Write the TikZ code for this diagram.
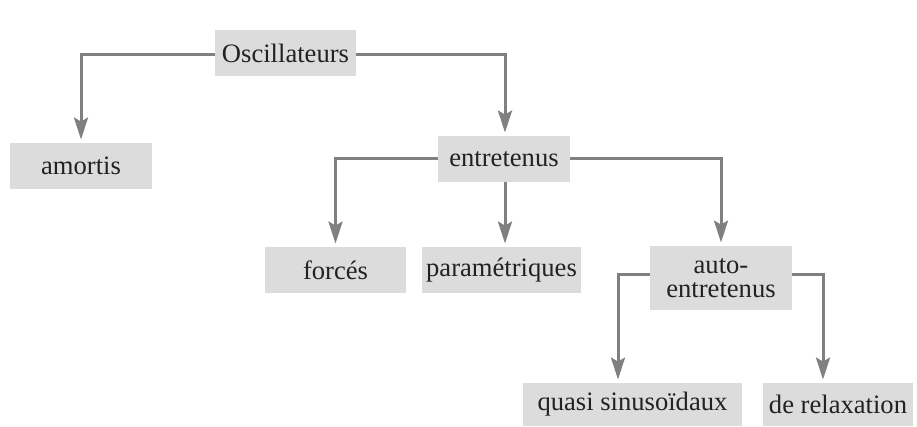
\documentclass[tikz,border=0pt]{standalone}
\usepackage{fontspec}
\setmainfont{Liberation Serif}
\usepackage{xcolor}
\usetikzlibrary{positioning}
\usetikzlibrary{arrows.meta}
\definecolor{boxgray}{HTML}{DCDCDC}
\definecolor{linegray}{HTML}{808080}
\definecolor{textgray}{HTML}{222222}
\tikzset{
  box/.style={fill=boxgray, text=textgray, inner sep=0pt, align=center,
    font=\fontsize{13.3}{12}\selectfont},
  link/.style={draw=linegray, line width=1.5pt,
    -{Stealth[length=11pt,width=7pt,inset=2pt]}}
}

\begin{document}
\begin{tikzpicture}[x=0.5pt,y=-0.5pt]
\useasboundingbox (0,0) rectangle (917,427);

% Root
\node[box,
    minimum width=70.5pt,
    minimum height=23pt
    ] (osc) at (285.5,53) {Oscillateurs};

% First level
\node[box,
    minimum width=71pt,
    minimum height=23pt
    ] (amortis) at (81,166) {amortis};

\node[box,
    minimum width=66pt,
    minimum height=23pt
    ] (entr) at (504,159) {entretenus};

% Second level
\node[box,
    minimum width=70.5pt,
    minimum height=23pt
    ] (forces) at (335.5,270) {forcés};

\node[box,
    minimum width=79.5pt,
    minimum height=23pt
    ] (param) at (501.5,270) {paramétriques};

\node[box,
    minimum width=71pt,
    minimum height=32pt
    ] (auto) at (721,278) {auto-\\entretenus};

% Third level
\node[box,
    minimum width=109.5pt,
    minimum height=21.5pt
    ] (quasi) at (632.5,404.5) {quasi sinusoïdaux};

\node[box,
    minimum width=75pt,
    minimum height=21.5pt
    ] (relax) at (838,404.5) {de relaxation};

% Connectors
\draw[link] ([yshift=-1pt]osc.west) -| ([yshift=1.5pt]amortis.north);
\draw[link] ([yshift=-1pt]osc.east) -| ([xshift=0.5pt,yshift=1.5pt]entr.north);

\draw[link] (entr.west) -| ([yshift=1.5pt]forces.north);
\draw[link] ([xshift=0.5pt]entr.south) -- ([xshift=0.5pt,yshift=1.5pt]entr.south |- param.north);
\draw[link] (entr.east) -| ([yshift=1.5pt]auto.north);

\draw[link] ([yshift=1.5pt]auto.west) -| ([xshift=-7.25pt,yshift=1.5pt]quasi.north);
\draw[link] ([yshift=1.5pt]auto.east) -| ([xshift=-7.5pt,yshift=1.5pt]relax.north);

\end{tikzpicture}
\end{document}
